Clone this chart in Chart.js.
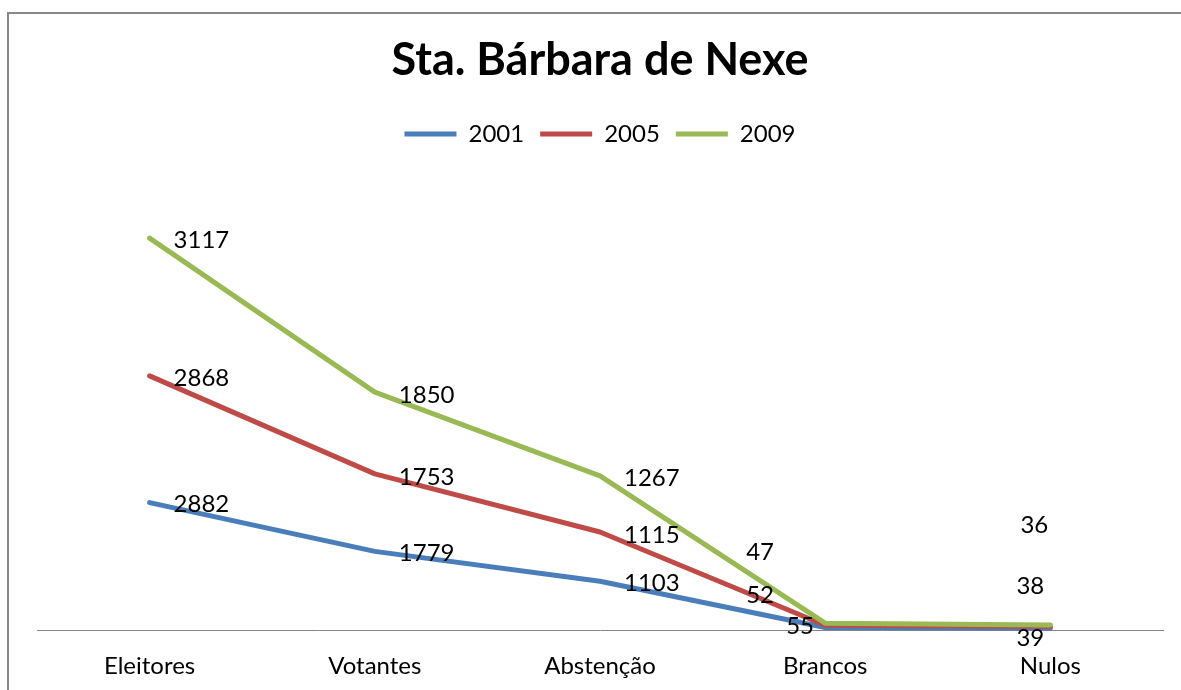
<!DOCTYPE html>
<html>
<head>
<meta charset="utf-8">
<title>Sta. Bárbara de Nexe</title>
<script src="https://cdn.jsdelivr.net/npm/chart.js@4.4.1/dist/chart.umd.min.js"></script>
<style>
  html, body { margin: 0; padding: 0; background: #fff; overflow: hidden; }
  #wrap { position: relative; width: 1181px; height: 690px; }
  #frame { position: absolute; left: 7px; top: 12px; width: 1200px; height: 700px; border: 2px solid #888; }
  #chart { position: absolute; left: 0; top: 0; }
</style>
</head>
<body>
<div id="wrap">
  <div id="frame"></div>
  <canvas id="chart" width="1181" height="690"></canvas>
</div>
<script>
"use strict";

const categories = ["Eleitores", "Votantes", "Abstenção", "Brancos", "Nulos"];
const years = ["2001", "2005", "2009"];
const vals2001 = [2882, 1779, 1103, 55, 39];
const vals2005 = [2868, 1753, 1115, 52, 38];
const vals2009 = [3117, 1850, 1267, 47, 36];

const colors = ["#4a7ebb", "#be4b48", "#98b954"];

// label nudges (dx to text start, dy) -- the Brancos / Nulos ones were moved by hand
const labelShift = [
    [[24, 0], [24, 0], [24, 0], [-39, -3], [-34, 8]],
    [[24, 0], [24, 1], [24, 1], [-79, -32], [-34, -42]],
    [[24, 0], [24, 1], [24, 0], [-79, -73], [-30, -102]]
];

const FONT = "Lato, 'Open Sans', sans-serif";

function lineSet(label, data, color) {
    return {
        label: label,
        data: data,
        borderColor: color,
        backgroundColor: color,
        borderWidth: 5,
        borderCapStyle: "round",
        borderJoinStyle: "round",
        pointRadius: 0,
        pointHoverRadius: 0,
        tension: 0,
        fill: false
    };
}

// draw series in forward order so 2009 sits on top, like Excel
const forwardDraw = {
    id: "forwardDraw",
    beforeDatasetsDraw(chart) {
        chart.getSortedVisibleDatasetMetas().forEach(m => m.controller.draw());
        return false;
    }
};

// push the plot area down below the legend
const legendGap = {
    id: "legendGap",
    afterInit(chart) {
        const fit = chart.legend.fit;
        chart.legend.fit = function() {
            fit.call(this);
            this.height += 32;
        };
    }
};

const valueLabels = {
    id: "valueLabels",
    afterDraw(chart) {
        const ctx = chart.ctx;
        ctx.save();
        ctx.font = "24px " + FONT;
        ctx.fillStyle = "#000";
        ctx.textAlign = "left";
        ctx.textBaseline = "middle";
        chart.data.datasets.forEach((ds, i) => {
            const meta = chart.getDatasetMeta(i);
            meta.data.forEach((pt, j) => {
                const s = labelShift[i][j];
                // +2: Lato digits sit a little high on "middle"
                ctx.fillText(String(ds.data[j]), pt.x + s[0], pt.y + s[1] + 2);
            });
        });
        ctx.restore();
    }
};

new Chart(document.getElementById("chart"), {
    type: "line",
    data: {
        labels: categories,
        datasets: [
            lineSet(years[0], vals2001, colors[0]),
            lineSet(years[1], vals2005, colors[1]),
            lineSet(years[2], vals2009, colors[2])
        ]
    },
    options: {
        responsive: false,
        animation: false,
        events: [],
        layout: { padding: { left: 37, right: 18, top: 0, bottom: 10 } },
        plugins: {
            tooltip: { enabled: false },
            title: {
                display: true,
                text: "Sta. Bárbara de Nexe",
                color: "#000",
                font: { family: FONT, size: 45, weight: "bold" },
                padding: { top: 33, bottom: 19 }
            },
            legend: {
                display: true,
                position: "top",
                labels: {
                    usePointStyle: true,
                    pointStyle: "line",
                    pointStyleWidth: 52,
                    color: "#000",
                    padding: 16,
                    font: { family: FONT, size: 24 }
                }
            }
        },
        scales: {
            x: {
                offset: true,
                grid: { display: false, drawTicks: false },
                border: { display: true, color: "#868686", width: 1 },
                ticks: {
                    color: "#000",
                    padding: 22,
                    maxRotation: 0,
                    font: { family: FONT, size: 24 }
                },
                afterFit(scale) {
                    scale.height = 50;
                }
            },
            y: {
                display: false,
                stacked: true,
                min: 0,
                max: 10000
            }
        }
    },
    plugins: [forwardDraw, legendGap, valueLabels]
});
</script>
</body>
</html>
